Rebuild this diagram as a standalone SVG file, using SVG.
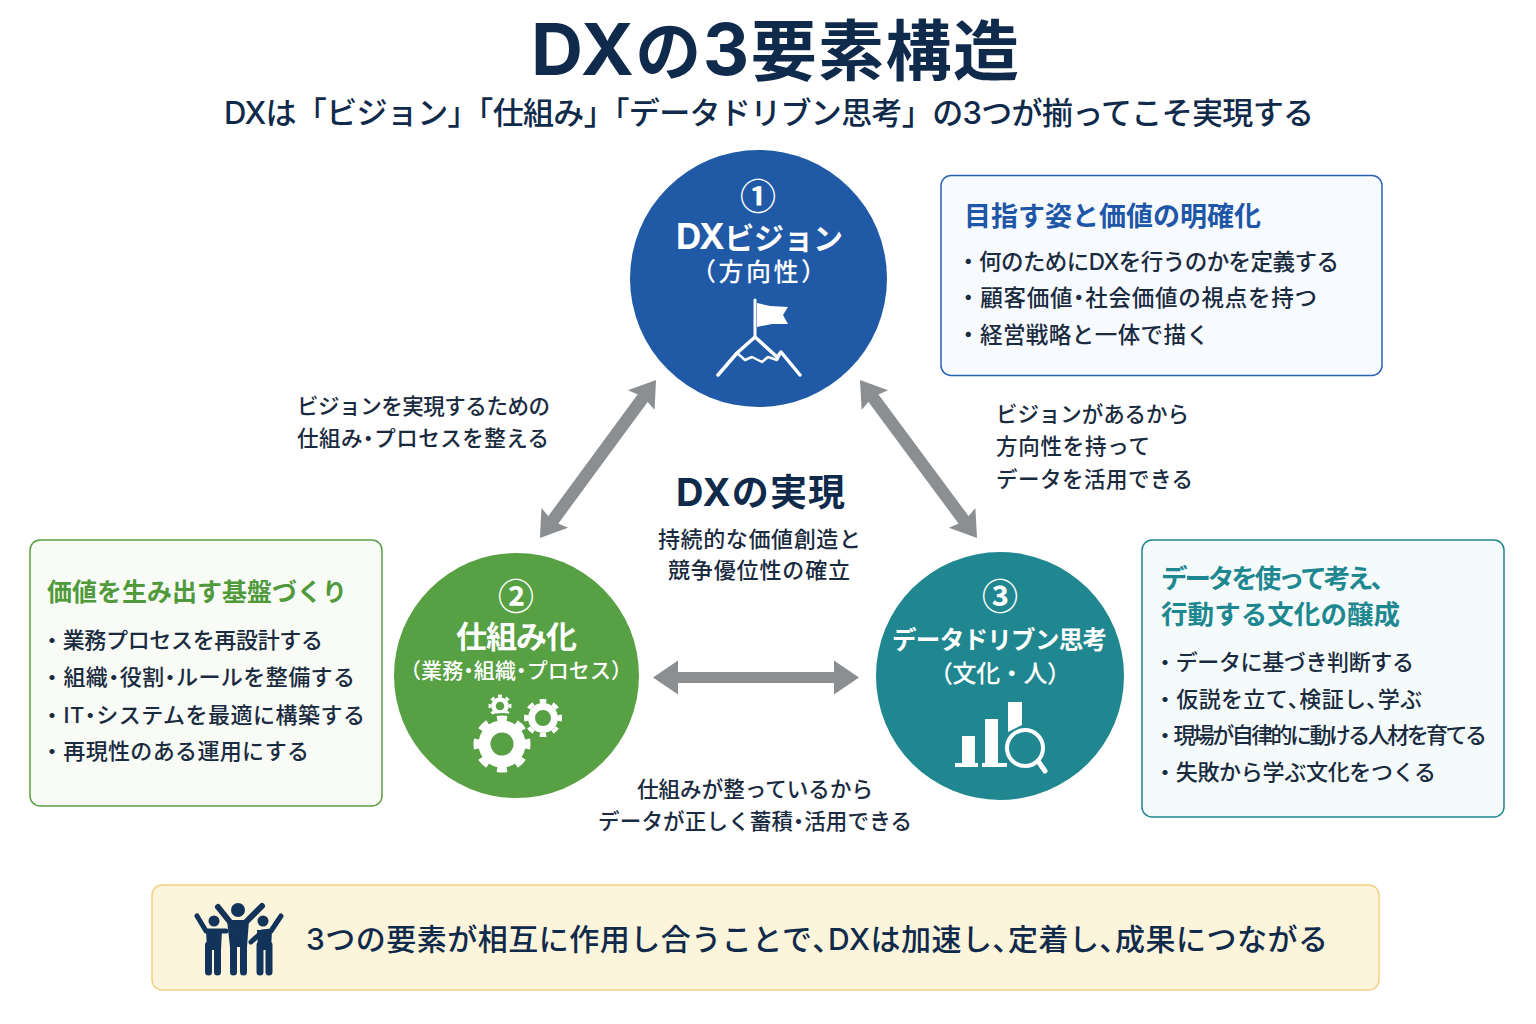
<svg xmlns="http://www.w3.org/2000/svg" width="1536" height="1024" viewBox="0 0 1536 1024">
<style>
text{font-family:Inter,"Noto Sans CJK JP","Noto Sans",sans-serif;font-weight:500;fill:#1a2b40}
.navy{fill:#0f2a4a}
.b{font-weight:700}
.w{fill:#fff}
.mid{text-anchor:middle}
.num{font-family:"Noto Sans CJK JP",sans-serif;font-size:36px;text-anchor:middle;font-weight:700;fill:#fff}
.lab{font-size:21.5px}
.d{font-feature-settings:"palt"}
.ic{fill:none;stroke:#fff;stroke-linecap:round;stroke-linejoin:round}
</style>
<defs>
<marker id="head" markerUnits="userSpaceOnUse" markerWidth="30" markerHeight="40" refX="6" refY="20" orient="auto-start-reverse"><path d="M0,3.500 L25,20 L0,36.500 L4,20 Z" fill="#8c8f92"/></marker>
<marker id="headh" markerUnits="userSpaceOnUse" markerWidth="30" markerHeight="40" refX="3" refY="20" orient="auto-start-reverse"><path d="M0,3 L25,20 L0,37 Z" fill="#8c8f92"/></marker>
</defs>
<rect width="1536" height="1024" fill="#fff"/>
<g id="title">
<text class="navy b" x="531" y="75" font-size="66" textLength="488"><tspan font-size="72">DX</tspan>の<tspan font-size="72">3</tspan>要素構造</text>
<text class="navy" x="224" y="124" font-size="31" textLength="1090">DXは「ビジョン」「仕組み」「データドリブン思考」の3つが揃ってこそ実現する</text>
</g>
<g id="connectors" fill="none" stroke="#8c8f92">
<line x1="551.2" y1="522.7" x2="644.8" y2="395.3" stroke-width="12.500" marker-start="url(#head)" marker-end="url(#head)"/>
<line x1="871.3" y1="395.3" x2="965.7" y2="522.7" stroke-width="12.500" marker-start="url(#head)" marker-end="url(#head)"/>
<line x1="675" y1="677.5" x2="837" y2="677.5" stroke-width="11" marker-start="url(#headh)" marker-end="url(#headh)"/>
</g>
<g id="label-vision-system">
<text class="lab" x="297" y="414" textLength="253">ビジョンを実現するための</text>
<text class="lab" x="297" y="446" textLength="252">仕組み<tspan class="d">・</tspan>プロセスを整える</text>
</g>
<g id="label-vision-data">
<text class="lab" x="996" y="422" textLength="193">ビジョンがあるから</text>
<text class="lab" x="996" y="454" textLength="154">方向性を持って</text>
<text class="lab" x="996" y="487" textLength="197">データを活用できる</text>
</g>
<g id="label-system-data">
<text class="lab" x="637" y="797" textLength="236">仕組みが整っているから</text>
<text class="lab" x="598" y="829" textLength="314">データが正しく蓄積<tspan class="d">・</tspan>活用できる</text>
</g>
<g id="center">
<text class="navy b" x="676" y="506" font-size="37" textLength="169"><tspan font-size="38">DX</tspan>の実現</text>
<text x="658" y="547" font-size="22" textLength="203">持続的な価値創造と</text>
<text x="668" y="578" font-size="22" textLength="182">競争優位性の確立</text>
</g>
<g id="node-vision">
<circle cx="758.5" cy="278.5" r="128.500" fill="#2059a6"/>
<text class="num" x="758" y="210">①</text>
<text class="w b" x="676" y="249" font-size="30" textLength="167"><tspan font-size="35">DX</tspan>ビジョン</text>
<text class="w" x="691" y="281" font-size="25" textLength="135">（方向性）</text>
<path fill="#fff" d="M757,303 L770,306 L788,307 L783,315 L788,324 L772,324 L757,327 Z"/>
<path class="ic" stroke-width="3" d="M755,300 V337"/>
<path class="ic" stroke-width="3.500" d="M718,375 L737,353 L755,337 L777,357 L781,352 L800,375"/>
<path class="ic" stroke-width="2.500" d="M737,353 L745,360 L752,357 L762,362 L768,357 L777,360 L781,352"/>
</g>
<g id="node-system">
<circle cx="516.5" cy="675.5" r="122.500" fill="#58a044"/>
<text class="num" x="516" y="610">②</text>
<text class="w b" x="456" y="648" font-size="31" textLength="121">仕組み化</text>
<text class="w" x="400" y="678" font-size="21" textLength="232">（業務<tspan class="d">・</tspan>組織<tspan class="d">・</tspan>プロセス）</text>
<g fill="none" stroke="#fff">
<circle cx="500" cy="706" r="6.500" stroke-width="4.500"/>
<circle cx="500" cy="706" r="10" stroke-width="3" pathLength="16" stroke-dasharray="1 1" stroke-dashoffset="0.5"/>
<circle cx="502" cy="744" r="31" fill="#58a044" stroke="none"/>
<circle cx="502" cy="744" r="17.500" stroke-width="12"/>
<circle cx="502" cy="744" r="25.500" stroke-width="6" pathLength="16" stroke-dasharray="1 1" stroke-dashoffset="0.5"/>
<circle cx="543" cy="718" r="11.500" stroke-width="7"/>
<circle cx="543" cy="718" r="17" stroke-width="4" pathLength="16" stroke-dasharray="1 1" stroke-dashoffset="0.5"/>
</g>
</g>
<g id="node-data">
<circle cx="1000" cy="676" r="124" fill="#208790"/>
<text class="num" x="1000" y="610">③</text>
<text class="w b" x="892" y="649" font-size="24.5" textLength="215">データドリブン思考</text>
<text class="w" x="929" y="682" font-size="24" textLength="142">（文化・人）</text>
<g fill="#fff">
<rect x="962" y="736" width="13" height="27"/>
<rect x="985" y="719" width="13" height="44"/>
<path d="M1008,702 H1022 V725 L1008,732 Z"/>
<rect x="955" y="763" width="23" height="4"/>
<rect x="982" y="763" width="25" height="4"/>
</g>
<circle cx="1025" cy="748" r="18" fill="none" stroke="#fff" stroke-width="4"/>
<path class="ic" stroke-width="5" d="M1038,761 L1045,771"/>
</g>
<g id="panel-vision">
<rect x="941" y="175.500" width="441" height="200" rx="10" fill="#f7fafe" stroke="#2a62b5" stroke-width="1.500"/>
<text x="964" y="226" font-size="27" textLength="297" class="b" style="fill:#1f57a8">目指す姿と価値の明確化</text>
<text x="957" y="270" font-size="22.5" textLength="382">・何のためにDXを行うのかを定義する</text>
<text x="957" y="306" font-size="22.5" textLength="360">・顧客価値<tspan class="d">・</tspan>社会価値の視点を持つ</text>
<text x="957" y="343" font-size="22.5" textLength="252">・経営戦略と一体で描く</text>
</g>
<g id="panel-system">
<rect x="30" y="540" width="352" height="266" rx="10" fill="#f8fbf6" stroke="#58a044" stroke-width="1.500"/>
<text x="47" y="601" font-size="25" textLength="300" class="b" style="fill:#509a3c">価値を生み出す基盤づくり</text>
<text x="41" y="648" font-size="22" textLength="282">・業務プロセスを再設計する</text>
<text x="41" y="685" font-size="22" textLength="314">・組織<tspan class="d">・</tspan>役割<tspan class="d">・</tspan>ルールを整備する</text>
<text x="41" y="723" font-size="22" textLength="324">・IT<tspan class="d">・</tspan>システムを最適に構築する</text>
<text x="41" y="759" font-size="22" textLength="268">・再現性のある運用にする</text>
</g>
<g id="panel-data">
<rect x="1142" y="540" width="362" height="277" rx="10" fill="#f5fbfb" stroke="#208790" stroke-width="1.500"/>
<text x="1161" y="588" font-size="26.5" textLength="236" class="b" style="fill:#1f8790">データを使って考え、</text>
<text x="1161" y="624" font-size="26.5" textLength="239" class="b" style="fill:#1f8790">行動する文化の醸成</text>
<text x="1154" y="670" font-size="22" textLength="260">・データに基づき判断する</text>
<text x="1154" y="707" font-size="22" textLength="268">・仮説を立て<tspan class="d">、</tspan>検証し<tspan class="d">、</tspan>学ぶ</text>
<text x="1154" y="743" font-size="22" textLength="333">・現場が自律的に動ける人材を育てる</text>
<text x="1154" y="780" font-size="22" textLength="282">・失敗から学ぶ文化をつくる</text>
</g>
<g id="banner">
<rect x="152" y="885" width="1227" height="105" rx="10" fill="#fdf4dc" stroke="#f3cf85" stroke-width="1.500"/>
<g fill="#12345a">
<circle cx="238" cy="910" r="7"/>
<circle cx="214" cy="921" r="5.500"/>
<circle cx="263" cy="921" r="5.500"/>
<path d="M227,920 H249 L247,947 H230 Z"/>
<path d="M206,930 H222 L221,950 H207 Z"/>
<path d="M257,930 H272 L271,950 H258 Z"/>
</g>
<g fill="none" stroke="#12345a" stroke-linecap="round" stroke-linejoin="round">
<path stroke-width="6" d="M218,907 L230,922 M262,906 L246,922"/>
<path stroke-width="7" d="M233.500,940 V972 M243.500,940 V972"/>
<path stroke-width="5" d="M197,916 L206,931 H226"/>
<path stroke-width="5" d="M281,916 L271,931 L262,932 L251,942"/>
<path stroke-width="7" d="M208.500,945 V972 M217.500,945 V972 M260,945 V972 M269,945 V972"/>
</g>
<text class="navy" x="306" y="950" font-size="30" textLength="1022">3つの要素が相互に作用し合うことで<tspan class="d">、</tspan>DXは加速し<tspan class="d">、</tspan>定着し<tspan class="d">、</tspan>成果につながる</text>
</g>
</svg>
